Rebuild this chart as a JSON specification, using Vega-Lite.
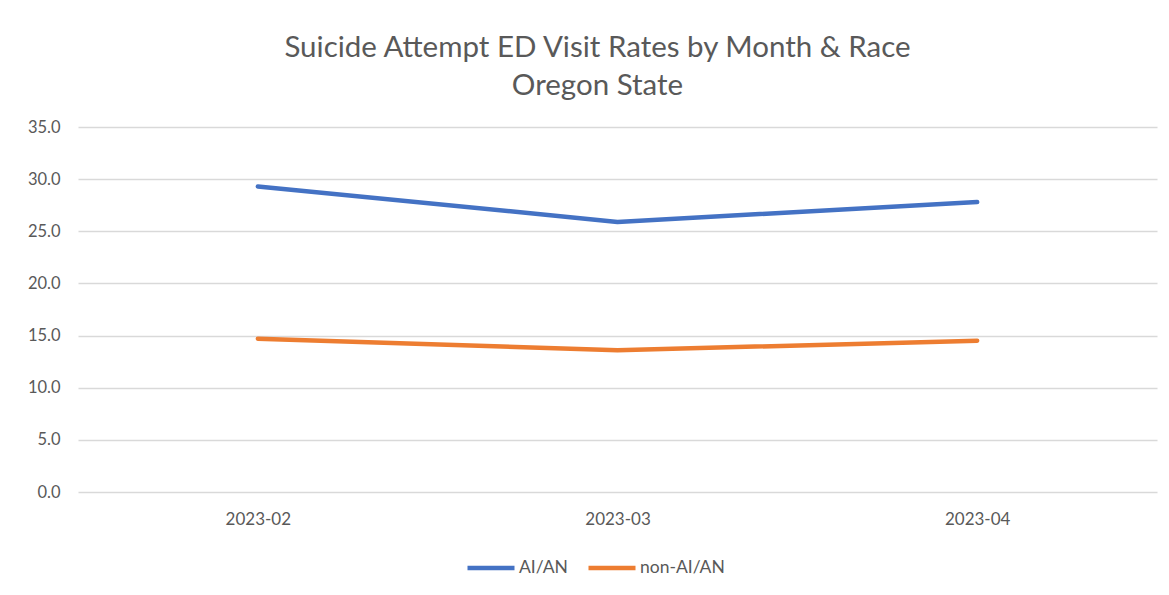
{
  "$schema": "https://vega.github.io/schema/vega-lite/v6.json",
  "autosize": {"type": "none"},
  "width": 1079,
  "height": 365,
  "padding": {"left": 78, "top": 127, "right": 12, "bottom": 103},
  "background": "white",
  "title": {
    "text": ["Suicide Attempt ED Visit Rates by Month & Race", "Oregon State"],
    "font": "Lato",
    "fontSize": 29.5,
    "fontWeight": "normal",
    "color": "#595959",
    "lineHeight": 38,
    "anchor": "middle",
    "dx": -20,
    "offset": 18
  },
  "data": {
    "values": [
      {"month": "2023-02", "group": "AI/AN", "rate": 29.3},
      {"month": "2023-03", "group": "AI/AN", "rate": 25.9},
      {"month": "2023-04", "group": "AI/AN", "rate": 27.8},
      {"month": "2023-02", "group": "non-AI/AN", "rate": 14.7},
      {"month": "2023-03", "group": "non-AI/AN", "rate": 13.6},
      {"month": "2023-04", "group": "non-AI/AN", "rate": 14.5}
    ]
  },
  "mark": {"type": "line", "strokeWidth": 4.5, "strokeCap": "round", "strokeJoin": "round"},
  "encoding": {
    "x": {
      "field": "month",
      "type": "ordinal",
      "title": null,
      "axis": {
        "labelAngle": 0,
        "domain": false,
        "ticks": false,
        "grid": false,
        "labelFont": "Lato",
        "labelFontSize": 17,
        "labelColor": "#595959",
        "labelPadding": 19
      }
    },
    "y": {
      "field": "rate",
      "type": "quantitative",
      "title": null,
      "scale": {"domain": [0, 35], "nice": false},
      "axis": {
        "values": [0, 5, 10, 15, 20, 25, 30, 35],
        "format": ".1f",
        "domain": false,
        "ticks": false,
        "labelFont": "Lato",
        "labelFontSize": 16.5,
        "labelColor": "#595959",
        "labelPadding": 18,
        "gridColor": "#d9d9d9",
        "gridWidth": 1.5
      }
    },
    "color": {
      "field": "group",
      "type": "nominal",
      "scale": {"domain": ["AI/AN", "non-AI/AN"], "range": ["#4472C4", "#ED7D31"]},
      "legend": {
        "title": null,
        "orient": "none",
        "legendX": 387,
        "legendY": 415,
        "direction": "horizontal",
        "symbolType": "stroke",
        "symbolSize": 2209,
        "symbolStrokeWidth": 4.5,
        "labelFont": "Lato",
        "labelFontSize": 17.5,
        "labelColor": "#595959",
        "labelOffset": 2,
        "columnPadding": 11
      }
    }
  },
  "config": {"view": {"stroke": null}}
}
